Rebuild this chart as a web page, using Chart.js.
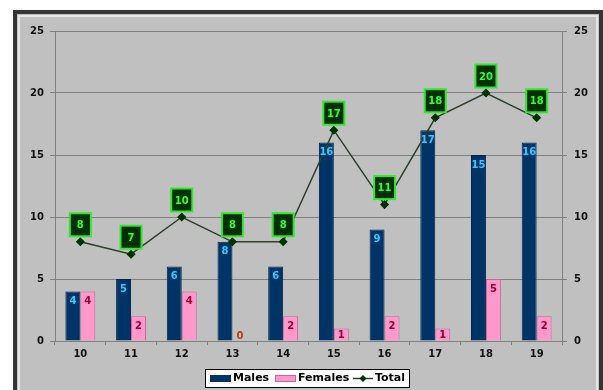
<!DOCTYPE html>
<html>
<head>
<meta charset="utf-8">
<script src="https://cdn.jsdelivr.net/npm/chart.js@4.4.0/dist/chart.umd.min.js"></script>
<style>
html, body { margin: 0; padding: 0; background: #fff; }
</style>
</head>
<body>
<canvas id="age_chart" width="603" height="390"></canvas>
<script>
// data
const ages    = ['10', '11', '12', '13', '14', '15', '16', '17', '18', '19'];
const males   = [4, 5, 6, 8, 6, 16, 9, 17, 15, 16];
const females = [4, 2, 4, 0, 2, 1, 2, 1, 5, 2];
const total   = [8, 7, 10, 8, 8, 17, 11, 18, 20, 18];
const yTicks  = [0, 5, 10, 15, 20, 25];

const FONT = 'DejaVu Sans';
Chart.defaults.font.family = FONT;

// grey panel with the dark frame round it
const framePlugin = {
    id: 'frame',
    beforeDraw(chart) {
        const c = chart.ctx;
        c.save();
        c.fillStyle = '#ffffff';
        c.fillRect(0, 0, chart.width, chart.height);
        c.fillStyle = '#c0c0c0';
        c.fillRect(17, 14, 582, 400);
        c.strokeStyle = '#e6e6e6';
        c.lineWidth = 2;
        c.strokeRect(19, 16, 578, 400);
        c.strokeStyle = '#353535';
        c.lineWidth = 4;
        c.strokeRect(15, 12, 586, 400);
        c.restore();
    }
};

// value labels on bars and boxed totals over the line
const labelPlugin = {
    id: 'valueLabels',
    afterDatasetsDraw(chart) {
        const c = chart.ctx;
        c.save();
        c.font = 'bold 10px ' + FONT;
        c.textAlign = 'center';
        c.textBaseline = 'middle';

        chart.getDatasetMeta(0).data.forEach((el, i) => {
            c.fillStyle = '#33ccff';
            c.fillText(males[i], el.x, Math.min(el.y + 10, el.base - 5));
        });
        chart.getDatasetMeta(1).data.forEach((el, i) => {
            if (females[i] === 0) {
                c.fillStyle = '#b5401a';
                c.fillText(females[i], el.x, el.y - 5);
            } else {
                c.fillStyle = '#990033';
                c.fillText(females[i], el.x, Math.min(el.y + 10, el.base - 5));
            }
        });
        chart.getDatasetMeta(2).data.forEach((el, i) => {
            const cy = el.y - 17;
            c.fillStyle = '#003000';
            c.fillRect(el.x - 10.5, cy - 11.5, 21, 23);
            c.strokeStyle = '#2ee82e';
            c.lineWidth = 2;
            c.strokeRect(el.x - 10.5, cy - 11.5, 21, 23);
            c.fillStyle = '#33ff33';
            c.fillText(total[i], el.x, cy + 1);
        });
        c.restore();
    }
};

// boxed legend under the axis
const legendPlugin = {
    id: 'boxLegend',
    afterDraw(chart) {
        const c = chart.ctx;
        const y = 378.5;
        c.save();
        c.fillStyle = '#ffffff';
        c.fillRect(205, 369, 205, 19);
        c.strokeStyle = '#000000';
        c.lineWidth = 1;
        c.strokeRect(205.5, 369.5, 204, 18);

        c.font = 'bold 11px ' + FONT;
        c.textBaseline = 'middle';
        c.textAlign = 'left';

        c.fillStyle = '#003366';
        c.fillRect(210, 375, 21, 7);
        c.fillStyle = '#000';
        c.fillText('Males', 233, y);

        c.fillStyle = '#ff99cc';
        c.fillRect(275, 375, 21, 7);
        c.strokeStyle = '#cc6699';
        c.strokeRect(275.5, 375.5, 20, 6);
        c.fillStyle = '#000';
        c.fillText('Females', 298, y);

        c.strokeStyle = '#2b3f2b';
        c.lineWidth = 1.5;
        c.beginPath();
        c.moveTo(353, y);
        c.lineTo(373, y);
        c.stroke();
        c.fillStyle = '#003300';
        c.beginPath();
        c.moveTo(363, y - 3.5);
        c.lineTo(366.5, y);
        c.lineTo(363, y + 3.5);
        c.lineTo(359.5, y);
        c.closePath();
        c.fill();
        c.fillStyle = '#000';
        c.fillText('Total', 375, y);
        c.restore();
    }
};

const age_chart = new Chart(document.getElementById('age_chart'), {
    type: 'bar',
    data: {
        labels: ages,
        datasets: [{
            label: 'Males',
            data: males,
            backgroundColor: '#003366',
            borderColor: '#00254d',
            borderWidth: 1,
            categoryPercentage: 0.59,
            barPercentage: 1,
            order: 1
        }, {
            label: 'Females',
            data: females,
            backgroundColor: '#ff99cc',
            borderColor: '#cc6699',
            borderWidth: 1,
            categoryPercentage: 0.59,
            barPercentage: 1,
            order: 1
        }, {
            type: 'line',
            label: 'Total',
            data: total,
            borderColor: '#2b3f2b',
            borderWidth: 1.5,
            pointStyle: 'rectRot',
            pointRadius: 3.5,
            pointBackgroundColor: '#003300',
            pointBorderColor: '#003300',
            tension: 0,
            order: 0
        }]
    },
    options: {
        responsive: false,
        animation: false,
        layout: { padding: { top: 31, bottom: 27, left: 0, right: 0 } },
        plugins: {
            legend: { display: false },
            tooltip: { enabled: false }
        },
        scales: {
            x: {
                grid: { offset: true, drawOnChartArea: false, drawTicks: true, tickLength: 4, color: '#808080' },
                border: { color: '#808080' },
                ticks: { color: '#111', padding: 3, font: { size: 10, weight: 'bold' } },
                afterFit: s => { s.height = 22; }
            },
            y: {
                position: 'left',
                min: 0,
                max: 25,
                afterBuildTicks: s => { s.ticks = yTicks.map(v => ({ value: v })); },
                grid: { color: '#808080', tickLength: 5 },
                border: { color: '#808080' },
                ticks: { color: '#111', padding: 6, font: { size: 10, weight: 'bold' } },
                afterFit: s => { s.width = 55; }
            },
            y1: {
                position: 'right',
                min: 0,
                max: 25,
                afterBuildTicks: s => { s.ticks = yTicks.map(v => ({ value: v })); },
                grid: { drawOnChartArea: false, color: '#808080', tickLength: 5 },
                border: { color: '#808080' },
                ticks: { color: '#111', padding: 7, font: { size: 10, weight: 'bold' } },
                afterFit: s => { s.width = 41; }
            }
        }
    },
    plugins: [framePlugin, labelPlugin, legendPlugin]
});
</script>
</body>
</html>
